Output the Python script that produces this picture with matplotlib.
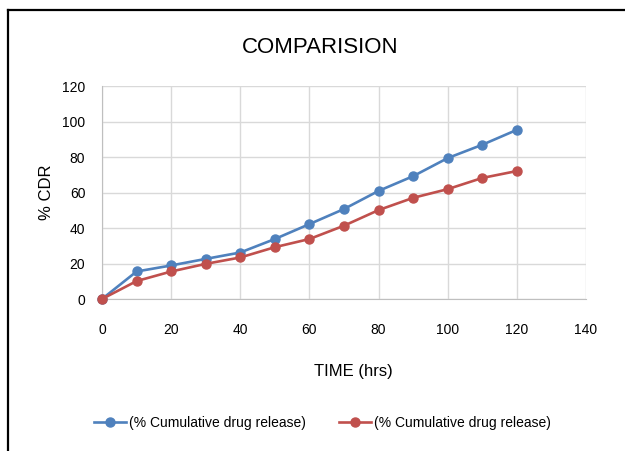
import matplotlib
matplotlib.use("Agg")
import matplotlib.pyplot as plt
from matplotlib.lines import Line2D

# --------------------------------------------
# Data
# --------------------------------------------
time_hrs = [0, 10, 20, 30, 40, 50, 60, 70, 80, 90, 100, 110, 120]
cdr_blue = [0, 15.5, 18.9, 22.6, 26.2, 33.8, 42.2, 50.7, 60.9, 69.2, 79.4, 86.9, 95.3]
cdr_red = [0, 10.1, 15.5, 19.8, 23.4, 29.2, 33.8, 41.3, 50.1, 57.0, 61.9, 68.2, 72.1]
series_labels = ["(% Cumulative drug release)", "(% Cumulative drug release)"]

plt.rcParams["font.family"] = ["Liberation Sans", "DejaVu Sans"]

fig = plt.figure(figsize=(6.25, 4.51), dpi=100)
ax = fig.add_axes([0.1632, 0.337, 0.7744, 0.4723])

ax.plot(time_hrs, cdr_blue, color="#4F81BD", marker="o", markersize=6.5,
        linewidth=1.9, label=series_labels[0], clip_on=False, zorder=3)
ax.plot(time_hrs, cdr_red, color="#C0504D", marker="o", markersize=6.5,
        linewidth=1.9, label=series_labels[1], clip_on=False, zorder=4)

ax.set_xlim(0, 140)
ax.set_ylim(0, 120)
ax.set_xticks(range(0, 141, 20))
ax.set_yticks(range(0, 121, 20))
ax.grid(True, color="#D9D9D9", linewidth=1)
ax.set_axisbelow(True)
for side in ["top", "right"]:
    ax.spines[side].set_visible(False)
for side in ["left", "bottom"]:
    ax.spines[side].set_color("#BFBFBF")
ax.tick_params(length=0, labelsize=10)
ax.tick_params(axis="x", pad=17)
ax.tick_params(axis="y", pad=12)

ax.set_title("COMPARISION", fontsize=16, pad=24, x=0.45)
ax.set_xlabel("TIME (hrs)", fontsize=12, labelpad=20, x=0.52)
ax.set_ylabel("% CDR", fontsize=12, labelpad=6)

fig.legend(loc="center", bbox_to_anchor=(0.516, 0.062), ncol=2, frameon=False,
           fontsize=10, handlelength=2.3, columnspacing=2.4, handletextpad=0.2)

# outer frame (left and top edges only)
fig.add_artist(Line2D([0.012, 0.012], [0.0, 0.978], color="black", linewidth=1.6,
                      transform=fig.transFigure))
fig.add_artist(Line2D([0.012, 1.0], [0.978, 0.978], color="black", linewidth=1.6,
                      transform=fig.transFigure))

fig.savefig("out.png", dpi=100, facecolor="white")
